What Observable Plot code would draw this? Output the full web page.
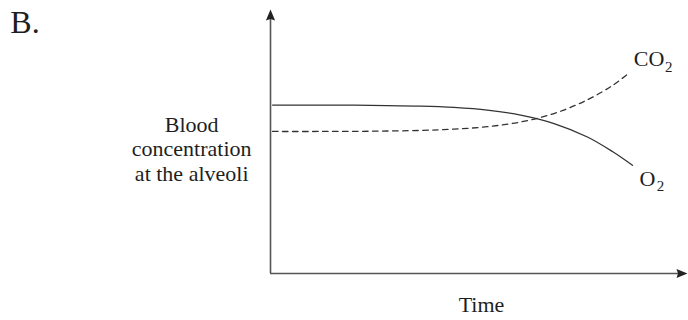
<!DOCTYPE html>
<html>
<head>
<meta charset="utf-8">
<script src="https://cdn.jsdelivr.net/npm/d3@7"></script>
<script src="https://cdn.jsdelivr.net/npm/@observablehq/plot@0.6"></script>
<style>
  html, body { margin: 0; padding: 0; background: #fff; }
  #chart svg { display: block; font-family: "Liberation Serif", "Times New Roman", serif; }
  #chart svg text { font-family: "Liberation Serif", "Times New Roman", serif; }
</style>
</head>
<body>
<div id="chart"></div>
<script>
// ---- data ----
const o2Time = [0.5, 12, 24, 36, 44, 52, 60, 68, 76, 82, 86.8];
const o2Values = [63.8, 63.8, 63.7, 63.4, 62.9, 61.9, 60.0, 56.8, 51.7, 46.2, 41.0];
const co2Time = [0.5, 12, 24, 36, 44, 52, 60, 68, 76, 82, 85.6];
const co2Values = [53.8, 53.8, 53.9, 54.2, 54.7, 55.6, 57.4, 60.6, 65.8, 71.2, 75.5];

const panelLabel = "B.";
const yTitle = "Blood\nconcentration\nat the alveoli";
const xTitle = "Time";
const seriesNames = ["CO", "O"];
const subscript = "2";

const o2 = o2Time.map((t, i) => ({t, v: o2Values[i]}));
const co2 = co2Time.map((t, i) => ({t, v: co2Values[i]}));

// filled arrow head with its tip at the origin, pointing up
const arrowHead = {
  draw(ctx) {
    ctx.moveTo(0, 0);
    ctx.lineTo(4.6, 11);
    ctx.lineTo(0, 9.5);
    ctx.lineTo(-4.6, 11);
    ctx.closePath();
  }
};

const serif = "Liberation Serif";
const ink = "#1e1e1e";

const chart = Plot.plot({
  width: 688,
  height: 320,
  marginLeft: 270,
  marginRight: 1,
  marginTop: 9,
  marginBottom: 47,
  style: {background: "#fff", overflow: "visible"},
  x: {domain: [0, 100], axis: null},
  y: {domain: [0, 100], axis: null},
  marks: [
    // axes
    Plot.ruleX([0], {y1: 0, y2: 97, stroke: "#555", strokeWidth: 1.6}),
    Plot.ruleY([0], {x1: 0, x2: 98, stroke: "#555", strokeWidth: 1.6}),
    Plot.dot([{x: 0, y: 100}], {x: "x", y: "y", symbol: arrowHead, fill: "#222", stroke: "none", r: 5}),
    Plot.dot([{x: 100, y: 0}], {x: "x", y: "y", symbol: arrowHead, fill: "#222", stroke: "none", r: 5, rotate: 90}),
    // curves
    Plot.line(o2, {x: "t", y: "v", curve: "catmull-rom", stroke: "#333", strokeWidth: 1.3}),
    Plot.line(co2, {x: "t", y: "v", curve: "catmull-rom", stroke: "#333", strokeWidth: 1.3, strokeDasharray: "5.5,4.5"}),
    // series labels
    Plot.text([seriesNames[0]], {x: 87.1, y: 81.1, text: d => d, textAnchor: "start", fontSize: 22, fontFamily: serif, fill: ink}),
    Plot.text([subscript], {x: 94.6, y: 78.3, text: d => d, textAnchor: "start", fontSize: 15, fontFamily: serif, fill: ink}),
    Plot.text([seriesNames[1]], {x: 88.5, y: 36.0, text: d => d, textAnchor: "start", fontSize: 22, fontFamily: serif, fill: ink}),
    Plot.text([subscript], {x: 92.6, y: 33.0, text: d => d, textAnchor: "start", fontSize: 15, fontFamily: serif, fill: ink}),
    // axis titles
    Plot.text([yTitle], {x: -18.9, y: 47.3, text: d => d, textAnchor: "middle", fontSize: 22, lineHeight: 1.11, fontFamily: serif, fill: ink}),
    Plot.text([xTitle], {x: 50.6, y: -12.1, text: d => d, textAnchor: "middle", fontSize: 22, fontFamily: serif, fill: ink}),
    // panel label
    Plot.text([panelLabel], {x: -62.4, y: 94.8, text: d => d, textAnchor: "start", fontSize: 32, fontFamily: serif, fill: ink})
  ]
});

document.getElementById("chart").append(chart);
</script>
</body>
</html>
